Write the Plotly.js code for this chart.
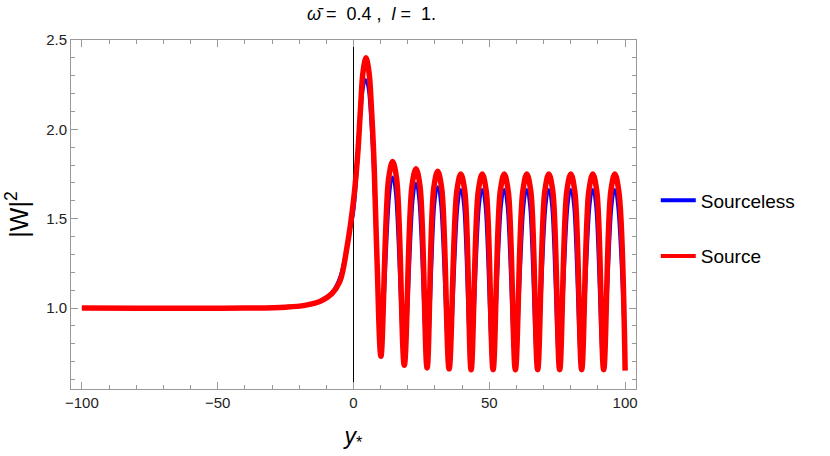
<!DOCTYPE html>
<html>
<head>
<meta charset="utf-8">
<script src="https://cdn.plot.ly/plotly-3.0.1.min.js"></script>
<style>html,body{margin:0;padding:0;background:#fff;}#chart{width:830px;height:456px;}</style>
</head>
<body>
<div id="chart"></div>
<script>
// Sourceless (blue)
const sourcelessX = [-100, -40, -25, -18, -12, -8, -5, -2.4, 0, 1.5, 2.7, 3.6, 4.5, 5.4, 6.3, 7.3, 8.5, 10.1,
  13.4, 14.4, 15.4, 18.7,
  22.0, 23.0, 24.0, 27.1,
  30.0, 31.0, 32.0, 35.2,
  38.5, 39.5, 40.5, 43.2,
  46.4, 47.4, 48.4, 51.2,
  54.5, 55.5, 56.5, 59.5,
  62.8, 63.8, 64.8, 67.6,
  70.9, 71.9, 72.9, 75.7,
  79.0, 80.0, 81.0, 83.8,
  87.1, 88.1, 89.1, 91.9,
  95.2, 96.2, 97.2, 100];
const sourcelessY = [1.0, 1.0, 1.006, 1.018, 1.045, 1.09, 1.18, 1.36, 1.52, 1.78, 2.06, 2.22, 2.28, 2.22, 2.04, 1.75, 1.25, 0.75,
  1.635, 1.735, 1.635, 0.69,
  1.60, 1.70, 1.60, 0.675,
  1.58, 1.68, 1.58, 0.67,
  1.565, 1.665, 1.565, 0.665,
  1.565, 1.665, 1.565, 0.665,
  1.565, 1.665, 1.565, 0.665,
  1.565, 1.665, 1.565, 0.665,
  1.565, 1.665, 1.565, 0.665,
  1.565, 1.665, 1.565, 0.665,
  1.565, 1.665, 1.565, 0.665,
  1.565, 1.665, 1.565, 0.66];
// Source (red)
const sourceX = [-100, -40, -25, -18, -12, -8, -5, -2.4, 0, 1.5, 2.6, 3.5, 4.6, 5.7, 6.6, 7.6, 8.6, 10.1,
  12.9, 14.4, 15.9, 18.7,
  21.5, 23.0, 24.5, 27.1,
  29.5, 31.0, 32.5, 35.2,
  38.0, 39.5, 41.0, 43.3,
  45.9, 47.4, 48.9, 51.4,
  54.0, 55.5, 57.0, 59.6,
  62.3, 63.8, 65.3, 67.8,
  70.4, 71.9, 73.4, 75.9,
  78.5, 80.0, 81.5, 84.0,
  86.6, 88.1, 89.6, 92.1,
  94.7, 96.2, 97.7, 100];
const sourceY = [1.0, 1.0, 1.005, 1.015, 1.04, 1.08, 1.15, 1.34, 1.6, 1.85, 2.12, 2.32, 2.40, 2.32, 2.12, 1.8, 1.3, 0.73,
  1.72, 1.82, 1.72, 0.68,
  1.68, 1.78, 1.68, 0.665,
  1.665, 1.765, 1.665, 0.66,
  1.65, 1.75, 1.65, 0.655,
  1.65, 1.75, 1.65, 0.655,
  1.65, 1.75, 1.65, 0.655,
  1.65, 1.75, 1.65, 0.655,
  1.65, 1.75, 1.65, 0.655,
  1.65, 1.75, 1.65, 0.655,
  1.65, 1.75, 1.65, 0.655,
  1.65, 1.75, 1.65, 0.65];

const seriesNames = ["Sourceless", "Source"];
const seriesColors = ["#0000ff", "#ff0000"];
const xTicks = [-100, -50, 0, 50, 100];
const yTicks = [1.0, 1.5, 2.0, 2.5];

const FONT = "Liberation Sans, Arial, sans-serif";
const traces = [
  {x: sourcelessX, y: sourcelessY, name: seriesNames[0], mode: "lines", showlegend: false,
   line: {color: seriesColors[0], width: 2.5, shape: "spline", smoothing: 1}},
  {x: sourceX, y: sourceY, name: seriesNames[1], mode: "lines", showlegend: false,
   line: {color: seriesColors[1], width: 5.5, shape: "spline", smoothing: 1}},
  // legend entries (same series, uniform legend line width)
  {x: [null], y: [null], name: seriesNames[0], mode: "lines", legendgroup: "a",
   line: {color: seriesColors[0], width: 4}},
  {x: [null], y: [null], name: seriesNames[1], mode: "lines", legendgroup: "b",
   line: {color: seriesColors[1], width: 4}}
];

const axisCommon = {
  showgrid: false, showline: true, linecolor: "#999999", linewidth: 1,
  mirror: "allticks", ticks: "inside", ticklen: 7, tickcolor: "#999999", tickwidth: 1,
  tickfont: {family: FONT, size: 15, color: "#222"}
};

const layout = {
  width: 830, height: 456,
  margin: {l: 71, r: 194, t: 40, b: 67},
  paper_bgcolor: "#fff", plot_bgcolor: "#fff",
  title: {text: "<i>ω̄</i> =  0.4 ,  <i>l</i> =  1.", font: {family: FONT, size: 18, color: "#000"},
          x: 0.532, xref: "paper", xanchor: "center", y: 0.969, yanchor: "middle"},
  xaxis: Object.assign({}, axisCommon, {
    range: [-104, 104], tickvals: xTicks,
    zeroline: true, zerolinecolor: "#000", zerolinewidth: 1,
    minor: {dtick: 10, ticklen: 4, ticks: "inside", tickcolor: "#999999"},
    title: {text: "<i>y</i><sub>*</sub>", font: {family: FONT, size: 23, color: "#000"}, standoff: 17}
  }),
  yaxis: Object.assign({}, axisCommon, {
    range: [0.547, 2.5], tickvals: yTicks, tickformat: ".1f", zeroline: false,
    minor: {dtick: 0.1, ticklen: 4, ticks: "inside", tickcolor: "#999999"},
    title: {text: "|W|<sup>2</sup>", font: {family: FONT, size: 25, color: "#000"}, standoff: 10}
  }),
  showlegend: true,
  legend: {x: 1.035, xanchor: "left", y: 0.46, yanchor: "middle", traceorder: "grouped",
           tracegroupgap: 28, font: {family: FONT, size: 19, color: "#000"}, bgcolor: "rgba(0,0,0,0)", itemwidth: 35}
};

Plotly.newPlot("chart", traces, layout, {displayModeBar: false, staticPlot: true});
</script>
</body>
</html>
